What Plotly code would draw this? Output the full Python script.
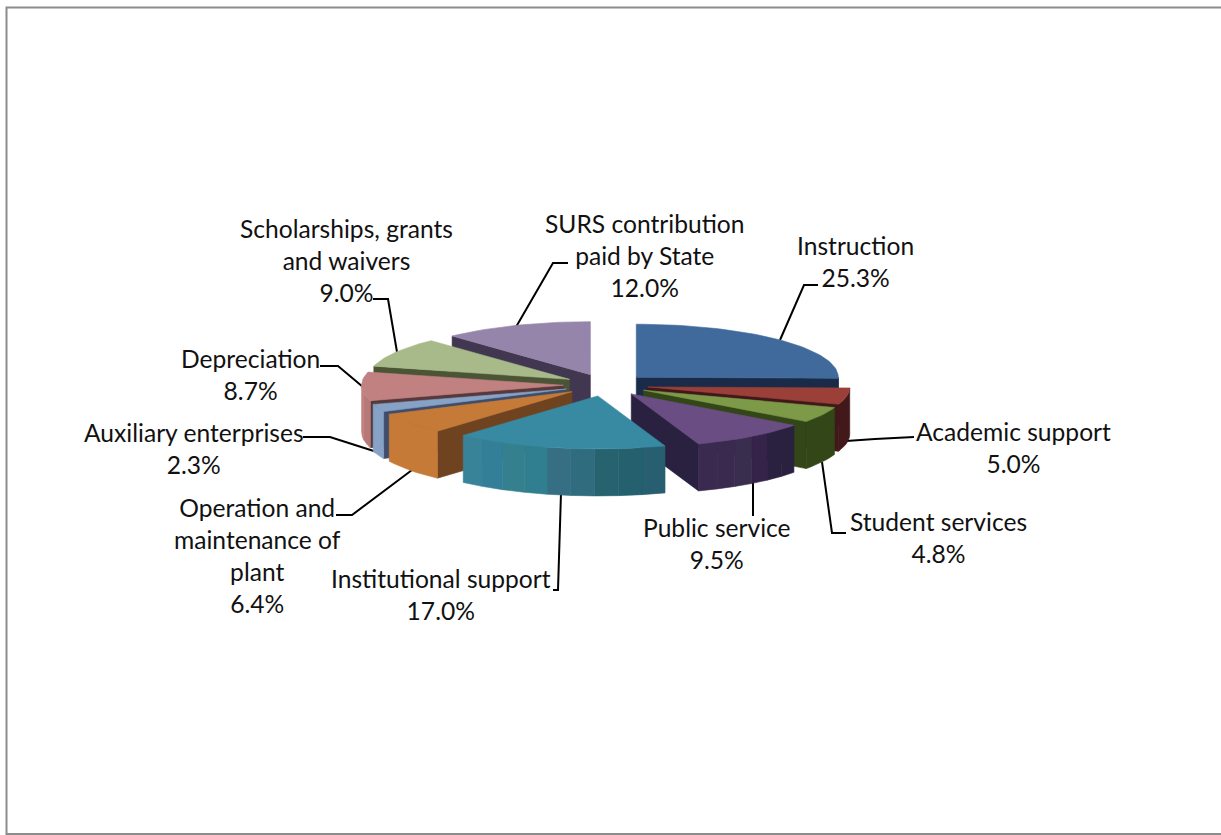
import math
import plotly.graph_objects as go

categories = ["Instruction", "Academic support", "Student services", "Public service",
              "Institutional support", "Operation and<br>maintenance of<br>plant", "Auxiliary enterprises",
              "Depreciation", "Scholarships, grants<br>and waivers", "SURS contribution<br>paid by State"]
values = [25.3, 5.0, 4.8, 9.5, 17.0, 6.4, 2.3, 8.7, 9.0, 12.0]

top_colors = ["#406A9B", "#9A4039", "#7C9A48", "#6A4D83", "#388AA3", "#C67A37", "#86A2C6", "#C18180", "#A8BA8A", "#9585AA"]
cut_colors = ["#1A2B49", "#40181A", "#334618", "#2A2140", "#275F70", "#6F4320", "#3F4D6B", "#56393C", "#4B5435", "#423750"]
wall_bands = [
    ["#1A2B49"], ["#42181A"], ["#334618"],
    ["#2A2140", "#2A2140", "#35234A", "#3A2E4E", "#3A2A50", "#3A2A50"],
    ["#275F70", "#24606E", "#26636F", "#2F6C7E", "#366F84", "#2F7F90", "#35808F", "#337F98", "#398399"],
    ["#C67A37"], ["#86A2C6"], ["#B87878", "#C18180"], ["#A8BA8A"], ["#423750"],
]
label_x = [855, 1013, 938, 717, 441, 257, 194, 250, 346, 644]
label_y = [261, 447, 537, 543, 594, 555, 448, 374, 260, 255]
leaders = [
    [(818, 285), (804, 285), (780, 340)],
    [(914, 437), (875, 439), (846, 441)],
    [(846, 533), (832, 533), (822, 462)],
    [(753, 482), (753, 516)],
    [(553, 590), (558, 590), (561, 493)],
    [(336, 515), (352, 515), (412, 470)],
    [(303, 437), (330, 437), (380, 453)],
    [(320, 366), (338, 366), (363, 387)],
    [(373, 299), (388, 299), (397, 352)],
    [(568, 263), (553, 263), (516, 327)],
]
draw_order = [9, 0, 1, 2, 3, 8, 7, 6, 5, 4]

CX, CY, RX, RY, DEPTH, PULL = 606, 385, 202, 53, 47, 0.21

fig = go.Figure()


def poly(xs, ys, color):
    fig.add_trace(go.Scatter(x=xs + xs[:1], y=ys + ys[:1], mode="lines", fill="toself", fillcolor=color,
                             line=dict(color=color, width=0.6), hoverinfo="skip", showlegend=False))


total = sum(values)
edges = [0]
for v in values:
    edges.append(edges[-1] + v / total * 2 * math.pi)

for i in draw_order:
    a1, a2 = edges[i], edges[i + 1]
    mid = (a1 + a2) / 2
    ax = CX + RX * PULL * math.sin(mid)
    ay = CY - RY * PULL * math.cos(mid)
    P = lambda t: (ax + RX * math.sin(t), ay - RY * math.cos(t))
    if math.sin(a1) < 0:
        x, y = P(a1)
        poly([ax, x, x, ax], [ay, y, y + DEPTH, ay + DEPTH], cut_colors[i])
    if math.sin(a2) > 0:
        x, y = P(a2)
        poly([ax, x, x, ax], [ay, y, y + DEPTH, ay + DEPTH], cut_colors[i])
    # outer wall, only the part facing the viewer
    lo, hi = max(a1, math.pi / 2), min(a2, 3 * math.pi / 2)
    if hi > lo:
        bands = wall_bands[i]
        for b, col in enumerate(bands):
            s = lo + (hi - lo) * b / len(bands)
            e = lo + (hi - lo) * (b + 1) / len(bands)
            ts = [s + (e - s) * k / 8 for k in range(9)]
            pts = [P(t) for t in ts]
            xs = [p[0] for p in pts]
            ys = [p[1] for p in pts]
            poly(xs + xs[::-1], ys + [q + DEPTH for q in ys[::-1]], col)
    n = max(3, int((a2 - a1) * 30))
    pts = [P(a1 + (a2 - a1) * k / n) for k in range(n + 1)]
    poly([ax] + [p[0] for p in pts], [ay] + [p[1] for p in pts], top_colors[i])

annotations = [dict(x=lx, y=ly, text=f"{c}<br>{v:.1f}%", showarrow=False, xanchor="center", yanchor="middle",
                    font=dict(family="Lato", size=24.6, color="#111111"), align="center")
               for c, v, lx, ly in zip(categories, values, label_x, label_y)]

shapes = [dict(type="path", layer="below", line=dict(color="black", width=2),
               path="M " + " L ".join(f"{x},{y}" for x, y in pl)) for pl in leaders]
shapes.append(dict(type="rect", layer="below", x0=6.5, y0=7.5, x1=1225, y1=834, line=dict(color="#8C8C8C", width=2)))

fig.update_layout(
    width=1221, height=835, margin=dict(l=0, r=0, t=0, b=0), paper_bgcolor="white", plot_bgcolor="white",
    xaxis=dict(range=[0, 1221], visible=False, fixedrange=True),
    yaxis=dict(range=[835, 0], visible=False, fixedrange=True),
    annotations=annotations, shapes=shapes, showlegend=False,
)
fig.write_html("out.html", config={"displayModeBar": False},
               post_script="document.body.style.margin='0';document.body.style.overflow='hidden';")
